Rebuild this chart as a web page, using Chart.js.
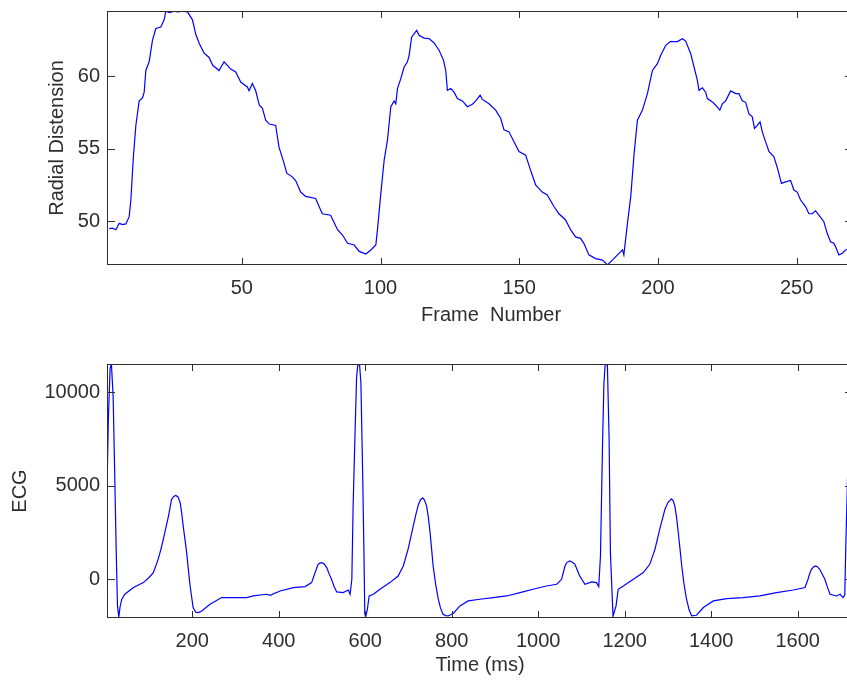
<!DOCTYPE html>
<html>
<head>
<meta charset="utf-8">
<script src="https://cdn.jsdelivr.net/npm/chart.js@4.4.1/dist/chart.umd.min.js"></script>
<style>
  body { margin: 0; background: #fff; overflow: hidden; }
  #wrap { position: relative; width: 847px; height: 682px; overflow: hidden; }
  canvas { position: absolute; left: 0; }
</style>
</head>
<body>
<div id="wrap">
  <canvas id="radial" width="870" height="340" style="top:0"></canvas>
  <canvas id="ecg" width="870" height="342" style="top:340px"></canvas>
</div>
<script>
// radial distension per frame
const frames = [2.2, 3.4, 4.6, 5.8, 7, 8.2, 9.4, 10, 10.9, 11.8, 13, 14.2, 14.8, 15.4, 16.6, 17.8, 19, 20.8, 22,
  22.6, 24, 25.5, 27, 28.5, 30.4, 32.2, 33.4, 34.7, 36.4, 38.2, 39.5, 41.8, 43.6, 46, 47.8, 49.6, 52, 52.6, 53.8,
  55, 56.3, 57.4, 58.6, 59.9, 62.2, 63.4, 65.2, 66.2, 68.2, 69.4, 71.2, 73, 76.6, 79, 82, 84.5, 86.3, 88.1, 90.5,
  92.3, 94.7, 96.5, 98.3, 98.9, 100, 101.3, 102.5, 103.7, 104.9, 105.5, 106.1, 107.3, 108.5, 109.7, 110.3, 111.2,
  113, 113.9, 115.7, 117.5, 119.3, 121.1, 122.7, 123.5, 124.1, 125.3, 126.5, 127.7, 129.5, 131.3, 133.1, 134.3,
  135.9, 136.7, 139.1, 141.5, 143.3, 144.5, 146.3, 148.1, 149.9, 152.3, 154.1, 155.9, 158.3, 160.1, 162.5, 164.3,
  166.7, 168.5, 170.3, 172.1, 173.3, 175.1, 177.5, 180, 181.8, 184.1, 187.2, 187.7, 189, 190.2, 191.4, 192.6,
  194.4, 196.2, 198, 199.8, 201, 202.8, 204.5, 207, 208.8, 210, 211.8, 213, 214.2, 214.8, 216, 217.2, 217.8,
  219.6, 220.8, 222.3, 223.2, 224.4, 226.2, 228, 229.2, 230.4, 231.6, 232.8, 234, 234.8, 235.8, 236.8, 237.6,
  238.8, 240, 241.8, 243, 244.5, 246, 247.8, 249, 250.2, 251.4, 253.2, 254.4, 255.6, 256.8, 258, 259.8, 261,
  262.2, 263.4, 264, 265.2, 266.5, 267.6, 268.3];
const distension = [49.47, 49.5, 49.4, 49.84, 49.75, 49.8, 50.3, 51.45, 54.4, 56.6, 58.3, 58.5, 58.9, 60.4, 61.0,
  62.5, 63.3, 63.4, 63.9, 64.5, 64.4, 64.5, 64.45, 64.5, 64.45, 63.9, 62.9, 62.25, 61.6, 61.3, 60.76, 60.4, 61.0,
  60.5, 60.3, 59.6, 59.26, 59.0, 59.5, 59.0, 58.0, 57.8, 56.97, 56.7, 56.6, 55.1, 54.0, 53.3, 53.05, 52.8, 52.0,
  51.7, 51.56, 50.5, 50.4, 49.4, 49.03, 48.46, 48.34, 47.9, 47.72, 48.0, 48.34, 49.4, 51.7, 54.2, 55.6, 57.9,
  58.3, 58.1, 59.15, 59.84, 60.64, 61.0, 61.45, 62.7, 63.17, 62.83, 62.64, 62.6, 62.3, 61.8, 61.1, 60.4, 59.03,
  59.15, 58.9, 58.46, 58.3, 57.9, 58.07, 58.3, 58.7, 58.4, 58.1, 57.66, 57.1, 56.3, 56.16, 55.47, 54.8, 54.55,
  53.5, 52.5, 52.0, 51.8, 51.0, 50.5, 50.07, 49.4, 48.9, 48.8, 48.46, 47.66, 47.4, 47.3, 46.97, 47.4, 48.0,
  47.66, 49.84, 51.7, 54.67, 56.97, 57.66, 58.8, 60.4, 60.87, 61.45, 62.14, 62.4, 62.4, 62.6, 62.43, 61.56,
  60.64, 59.72, 59.03, 59.2, 58.9, 58.46, 58.23, 58.0, 57.66, 58.1, 58.3, 58.99, 58.8, 58.8, 58.3, 58.2, 57.4,
  57.2, 56.4, 56.6, 56.85, 56.16, 55.47, 54.8, 54.43, 53.7, 52.6, 52.7, 52.8, 52.14, 52.0, 51.45, 51.0, 50.5,
  50.5, 50.7, 50.4, 49.95, 49.15, 48.57, 48.46, 48.23, 47.66, 47.77, 48.0, 48.05];

// ECG trace
const timeMs = [3, 6, 10, 13, 17, 21, 24, 27, 30, 33, 37, 44, 64, 87, 100, 110, 121, 127, 133, 139, 145, 152, 157,
  162, 167, 172, 175.5, 179, 183, 187, 191, 195, 202, 208, 214, 222, 241, 268, 295, 326, 341, 372, 380, 403, 434,
  461, 476, 484, 488, 491, 495, 499, 505, 511, 516, 522, 528, 534, 549, 561, 565, 569, 572, 576, 580, 583, 587,
  590, 594, 597, 599, 601, 605, 609, 619, 634, 657, 676, 688, 699, 711, 717, 723, 728, 733, 737, 742, 746, 750,
  753.5, 757, 763, 769, 774, 780, 786, 792, 804, 819, 838, 865, 896, 927, 958, 988, 1019, 1043, 1054, 1062, 1066,
  1073, 1079, 1085, 1090, 1096, 1108, 1124, 1135, 1140, 1144, 1149, 1152, 1155, 1160, 1164, 1167, 1173, 1180,
  1185, 1197, 1220, 1243, 1258, 1270, 1281, 1287, 1293, 1300, 1308, 1312, 1316, 1320, 1324, 1328, 1332, 1337,
  1343, 1349, 1355, 1366, 1382, 1405, 1436, 1474, 1513, 1551, 1590, 1617, 1624, 1628, 1632, 1637, 1642, 1646,
  1651, 1657, 1663, 1669, 1675, 1690, 1698, 1705, 1709, 1711, 1716];
const ecgValues = [5100, 8600, 11300, 11520, 9800, 5200, 1600, -1400, -2050, -1500, -1085, -818, -460, -193, 80,
  342, 1053, 1550, 2123, 2750, 3369, 4262, 4420, 4476, 4400, 4085, 3550, 2834, 2150, 1412, 500, -374, -1530,
  -1780, -1797, -1711, -1353, -995, -995, -995, -909, -818, -872, -642, -460, -406, -193, 342, 600, 786, 850, 877,
  800, 610, 300, -16, -400, -695, -727, -588, -818, -16, 3904, 7470, 10800, 11520, 11450, 10500, 5690, 1412,
  -1888, -2040, -1620, -909, -818, -551, -193, 160, 695, 1588, 2834, 3450, 3995, 4250, 4352, 4230, 3904, 3300,
  2481, 1600, 695, -300, -1085, -1550, -1888, -1960, -1978, -1834, -1444, -1176, -1085, -995, -909, -727, -551,
  -374, -283, -16, 695, 880, 963, 900, 786, 500, 160, -283, -160, -193, -406, 1230, 7470, 10500, 11520, 11450,
  7470, 1412, -2000, -1444, -551, -374, -16, 342, 786, 1588, 2658, 3200, 3727, 4100, 4299, 4200, 3904, 3300,
  2481, 1600, 695, -250, -1085, -1650, -1978, -1941, -1530, -1176, -1048, -995, -909, -727, -588, -460, -16, 300,
  519, 650, 695, 650, 519, 250, -16, -450, -818, -909, -818, -995, -850, 1412, 6000];

const frameTicks = [50, 100, 150, 200, 250];
const distTicks = [50, 55, 60];
const timeTicks = [200, 400, 600, 800, 1000, 1200, 1400, 1600];
const ecgTicks = [0, 5000, 10000];

const INK = '#2e2e2e';
const FONT = { family: "'Liberation Sans', Arial, Helvetica, sans-serif", size: 20 };

// matlab style box with inward ticks on all four sides
const boxTicks = {
  id: 'boxTicks',
  afterDraw(chart) {
    const { ctx, chartArea: a, scales: { x, y } } = chart;
    ctx.save();
    ctx.strokeStyle = INK;
    ctx.lineWidth = 1;
    ctx.strokeRect(a.left + 0.5, a.top + 0.5, a.right - a.left - 1, a.bottom - a.top - 1);
    ctx.beginPath();
    x.ticks.forEach(t => {
      const px = Math.round(x.getPixelForValue(t.value)) + 0.5;
      ctx.moveTo(px, a.top); ctx.lineTo(px, a.top + 7);
      ctx.moveTo(px, a.bottom); ctx.lineTo(px, a.bottom - 7);
    });
    y.ticks.forEach(t => {
      const py = Math.round(y.getPixelForValue(t.value)) + 0.5;
      ctx.moveTo(a.left, py); ctx.lineTo(a.left + 8, py);
      ctx.moveTo(a.right, py); ctx.lineTo(a.right - 8, py);
    });
    ctx.stroke();
    ctx.restore();
  }
};

function makeChart(id, xs, ys, o) {
  return new Chart(document.getElementById(id), {
    type: 'line',
    data: {
      datasets: [{
        data: xs.map((v, i) => ({ x: v, y: ys[i] })),
        borderColor: '#0000ff',
        borderWidth: 1.2,
        pointRadius: 0,
        tension: 0,
        clip: 0
      }]
    },
    options: {
      responsive: false,
      animation: false,
      devicePixelRatio: 1,
      layout: { padding: { top: o.padTop, right: 17, left: 0, bottom: 0 } },
      plugins: { legend: { display: false }, tooltip: { enabled: false } },
      scales: {
        x: {
          type: 'linear',
          min: o.xMin, max: o.xMax,
          grid: { display: false, drawTicks: false },
          border: { display: false },
          afterBuildTicks: s => { s.ticks = o.xTicks.map(v => ({ value: v })); },
          afterFit: s => { s.height = o.xHeight; s.paddingLeft = 0; s.paddingRight = 0; },
          ticks: { font: FONT, color: INK, padding: 11, maxRotation: 0, autoSkip: false, callback: v => String(v) },
          title: { display: true, text: o.xTitle, font: FONT, color: INK, padding: { top: 0, bottom: o.xTitlePad } }
        },
        y: {
          min: o.yMin, max: o.yMax,
          grid: { display: false, drawTicks: false },
          border: { display: false },
          afterBuildTicks: s => { s.ticks = o.yTicks.map(v => ({ value: v })); },
          afterFit: s => { s.width = 107; s.paddingTop = 0; s.paddingBottom = 0; },
          ticks: { font: FONT, color: INK, padding: 7, autoSkip: false, callback: v => String(v) },
          title: { display: true, text: o.yTitle, font: FONT, color: INK, padding: { top: o.yTitlePad, bottom: 0 } }
        }
      }
    },
    plugins: [boxTicks]
  });
}

makeChart('radial', frames, distension, {
  padTop: 11, xHeight: 75,
  xMin: 1.4, xMax: 270.3, xTicks: frameTicks, xTitle: '    Frame  Number', xTitlePad: 13,
  yMin: 46.96, yMax: 64.51, yTicks: distTicks, yTitle: 'Radial Distension', yTitlePad: 45
});

makeChart('ecg', timeMs, ecgValues, {
  padTop: 24, xHeight: 64,
  xMin: 2.8, xMax: 1728, xTicks: timeTicks, xTitle: 'Time (ms)', xTitlePad: 5,
  yMin: -2090, yMax: 11520, yTicks: ecgTicks, yTitle: 'ECG', yTitlePad: 8
});
</script>
</body>
</html>
